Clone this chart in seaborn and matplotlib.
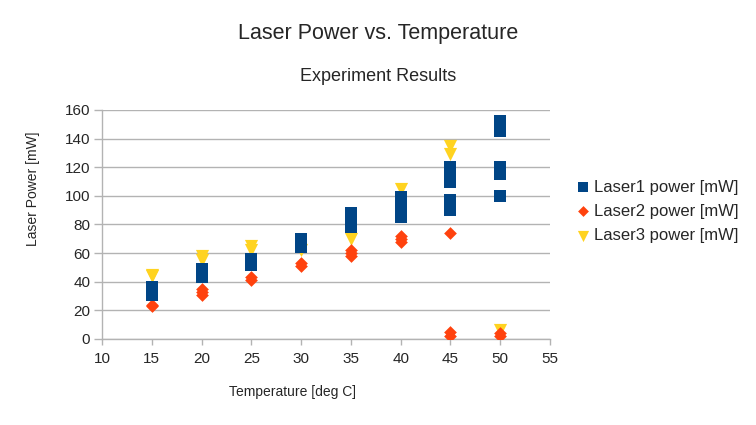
import matplotlib
matplotlib.use("Agg")
import matplotlib.pyplot as plt
import seaborn as sns
import pandas as pd

# values
laser1_temp = [15, 15, 15, 15, 20, 20, 20, 20, 25, 25, 25, 30, 30, 30,
               35, 35, 35, 35, 40, 40, 40, 40, 40, 45, 45, 45, 45, 45, 45, 45,
               50, 50, 50, 50, 50, 50, 50]
laser1_power = [31, 33, 35, 36, 43, 45, 47, 49, 52, 54, 56, 64, 67, 70,
                78, 81, 84, 88, 85, 88, 92, 96, 99, 110, 113, 117, 120, 90, 93, 97,
                145, 148, 152, 115, 118, 120, 100]

laser2_temp = [15, 15, 20, 20, 20, 25, 25, 30, 30, 35, 35, 35, 40, 40, 40,
               45, 45, 45, 50, 50]
laser2_power = [23, 24, 31, 33, 35, 41, 43, 51, 53, 58, 60, 62, 68, 70, 72,
                74, 2, 5, 2, 4]

laser3_temp = [15, 15, 20, 20, 25, 25, 30, 35, 40, 45, 45, 50]
laser3_power = [44, 45, 55, 58, 62, 65, 62, 70, 105, 129, 135, 6]

series_names = ["Laser1 power [mW]", "Laser2 power [mW]", "Laser3 power [mW]"]
COLORS = ["#004586", "#ff420e", "#ffd320"]
MARKERS = ["s", "D", "v"]
SIZES = [80, 42, 90]

frames = []
for name, t, p in zip(series_names,
                      [laser1_temp, laser2_temp, laser3_temp],
                      [laser1_power, laser2_power, laser3_power]):
    frames.append(pd.DataFrame({"temp": t, "power": p, "series": name}))
df = pd.concat(frames, ignore_index=True)

sns.set_style("white")
plt.rcParams["font.family"] = ["Liberation Sans", "DejaVu Sans"]

fig = plt.figure(figsize=(7.56, 4.25), dpi=100)
ax = fig.add_axes([0.135, 0.2024, 0.5925, 0.5388])

# draw Laser3 first so Laser1 ends up on top, like the original
for i in [2, 1, 0]:
    sub = df[df["series"] == series_names[i]]
    sns.scatterplot(data=sub, x="temp", y="power", ax=ax, color=COLORS[i],
                    marker=MARKERS[i], s=SIZES[i], linewidth=0,
                    label=series_names[i], zorder=3 + (2 - i))

ax.set_xlim(10, 55)
ax.set_ylim(0, 160)
ax.set_xticks(range(10, 56, 5))
ax.set_yticks(range(0, 161, 20))
ax.yaxis.grid(True, color="#b3b3b3", linewidth=1)
ax.xaxis.grid(False)
ax.set_axisbelow(True)
for side in ["top", "right"]:
    ax.spines[side].set_visible(False)
for side in ["left", "bottom"]:
    ax.spines[side].set_color("#b3b3b3")
    ax.spines[side].set_linewidth(1)
ax.tick_params(axis="x", length=4.5, width=1, color="#b3b3b3", pad=5,
               labelsize=11, direction="out", bottom=True)
ax.tick_params(axis="y", length=5.5, width=1, color="#b3b3b3", pad=3,
               labelsize=11, direction="out", left=True)

ax.set_xlabel("")
ax.set_ylabel("")
fig.text(0.3865, 0.078, "Temperature [deg C]", ha="center", va="center", fontsize=10)
fig.text(0.044, 0.555, "Laser Power [mW]", ha="center", va="center",
         rotation=90, fontsize=10)

fig.text(0.5, 0.922, "Laser Power vs. Temperature", ha="center", va="center", fontsize=15.5)
fig.text(0.5, 0.821, "Experiment Results", ha="center", va="center", fontsize=13)

handles, labels = ax.get_legend_handles_labels()
order = [labels.index(n) for n in series_names]
ax.legend([handles[k] for k in order], [labels[k] for k in order],
          loc="center left", bbox_to_anchor=(0.763, 0.503),
          bbox_transform=fig.transFigure, frameon=False, fontsize=12,
          handlelength=0.8, handletextpad=0.25, labelspacing=0.55,
          borderaxespad=0, borderpad=0, markerscale=0.85)

fig.savefig("out.png", dpi=100)
